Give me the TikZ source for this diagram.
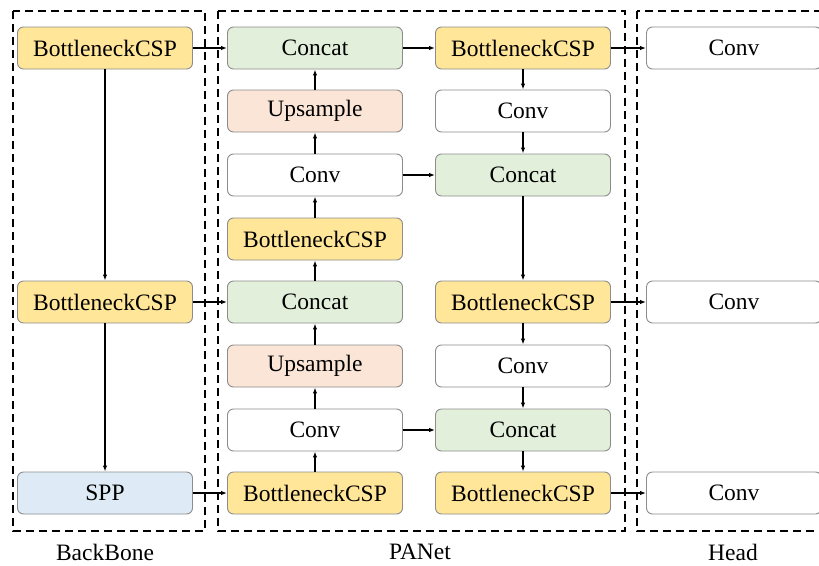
\documentclass[tikz,border=0pt]{standalone}
\usepackage{fontspec}
\setmainfont{Liberation Serif}
\usetikzlibrary{arrows.meta}
\definecolor{cyel}{HTML}{FFE699}
\definecolor{cgrn}{HTML}{E2EFDA}
\definecolor{cpch}{HTML}{FBE5D6}
\definecolor{cblu}{HTML}{DEEBF7}
\definecolor{cbrd}{HTML}{8C8C8C}
\tikzset{
  blk/.style={draw=cbrd, line width=0.9pt, rounded corners=6pt, minimum width=175pt, minimum height=42pt, inner sep=0pt, font=\fontsize{23.5}{28}\selectfont, anchor=center},
  yb/.style={blk, fill=cyel},
  gb/.style={blk, fill=cgrn},
  pb/.style={blk, fill=cpch},
  bb/.style={blk, fill=cblu},
  wb/.style={blk, fill=white},
  arr/.style={-{Latex[length=6pt,width=4.5pt]}, line width=1.3pt},
  grp/.style={draw, dashed, line width=1.6pt, dash pattern=on 8pt off 5pt},
  lbl/.style={font=\fontsize{23.5}{28}\selectfont}
}
\begin{document}
\begin{tikzpicture}[x=1pt,y=-1pt]
\useasboundingbox (0,0) rectangle (819,565);
\begin{scope}
\clip (0,0) rectangle (819,565);
\draw[grp] (13,11) rectangle (205,531);
\draw[grp] (218,11) rectangle (625,531);
\draw[grp] (637,11) rectangle (840,531);

% column 1
\node[yb] (a1) at (105,48) {BottleneckCSP};
\node[yb] (a2) at (105,302) {BottleneckCSP};
\node[bb] (a3) at (105,493) {SPP};
% column 2
\node[gb] (b1) at (315,48) {Concat};
\node[pb] (b2) at (315,111) {Upsample};
\node[wb] (b3) at (315,175) {Conv};
\node[yb] (b4) at (315,239) {BottleneckCSP};
\node[gb] (b5) at (315,302) {Concat};
\node[pb] (b6) at (315,366) {Upsample};
\node[wb] (b7) at (315,430) {Conv};
\node[yb] (b8) at (315,493) {BottleneckCSP};
% column 3
\node[yb] (c1) at (523,48) {BottleneckCSP};
\node[wb] (c2) at (523,111) {Conv};
\node[gb] (c3) at (523,175) {Concat};
\node[yb] (c4) at (523,302) {BottleneckCSP};
\node[wb] (c5) at (523,366) {Conv};
\node[gb] (c6) at (523,430) {Concat};
\node[yb] (c7) at (523,493) {BottleneckCSP};
% head
\node[wb] (d1) at (734,48) {Conv};
\node[wb] (d2) at (734,302) {Conv};
\node[wb] (d3) at (734,493) {Conv};
\end{scope}

\node[lbl] (l1) at (105,552) {BackBone};
\node[lbl] (l2) at (420,552) {PANet};
\node[lbl] (l3) at (733,552) {Head};

% connectors
\draw[arr] (a1) -- (a2);
\draw[arr] (a2) -- (a3);
\draw[arr] (a1) -- (b1);
\draw[arr] (a2) -- (b5);
\draw[arr] (a3) -- (b8);
\draw[arr] (b8) -- (b7);
\draw[arr] (b7) -- (b6);
\draw[arr] (b6) -- (b5);
\draw[arr] (b5) -- (b4);
\draw[arr] (b4) -- (b3);
\draw[arr] (b3) -- (b2);
\draw[arr] (b2) -- (b1);
\draw[arr] (b1) -- (c1);
\draw[arr] (c1) -- (c2);
\draw[arr] (c2) -- (c3);
\draw[arr] (b3) -- (c3);
\draw[arr] (c3) -- (c4);
\draw[arr] (c4) -- (c5);
\draw[arr] (c5) -- (c6);
\draw[arr] (b7) -- (c6);
\draw[arr] (c6) -- (c7);
\draw[arr] (c1) -- (d1);
\draw[arr] (c4) -- (d2);
\draw[arr] (c7) -- (d3);
\end{tikzpicture}
\end{document}
